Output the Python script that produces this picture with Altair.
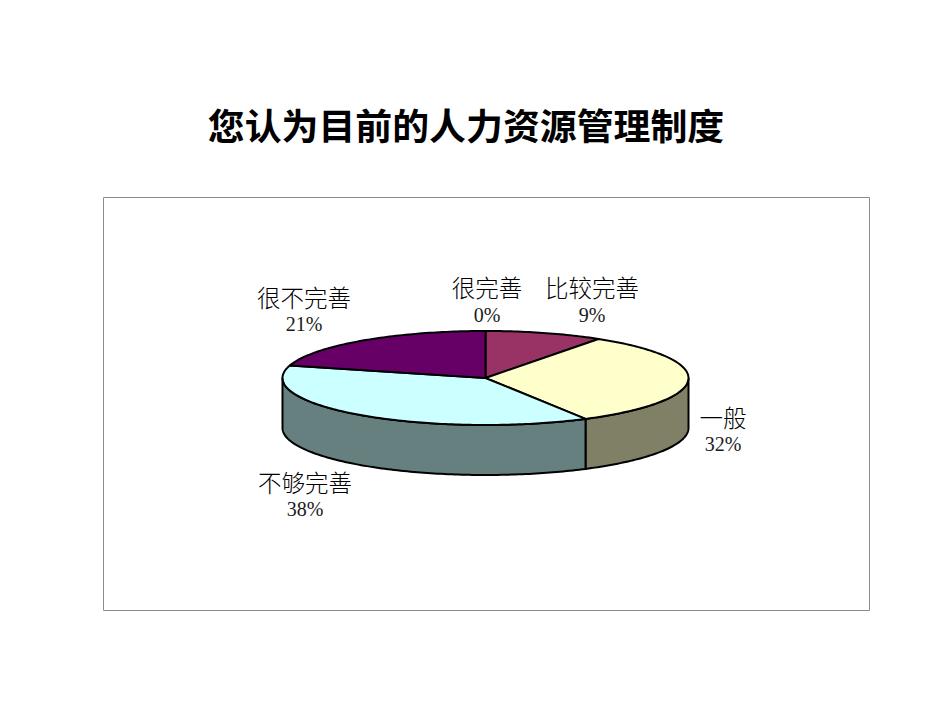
import math
import altair as alt
import pandas as pd

TITLE = "您认为目前的人力资源管理制度"
names = ["很完善", "比较完善", "一般", "不够完善", "很不完善"]
values = [0.0, 9.4, 32.4, 37.5, 20.7]
pct_labels = ["0%", "9%", "32%", "38%", "21%"]
top_colors = ["#FF99CC", "#993366", "#FFFFCC", "#CCFFFF", "#660066"]
wall_colors = ["#804D66", "#4D1A33", "#808066", "#668080", "#330033"]

# label anchors in the frame's own coordinates
label_x = [384, 489, 620, 202, 201]
name_y = [93, 93, 223, 288, 103]
pct_y = [119, 119, 248, 313, 128]

W, H = 766, 413
CX, CY, RX, RY, DEPTH = 382.5, 181, 203, 47, 50


def pt(deg, drop=0.0):
    t = math.radians(deg)
    return CX + RX * math.sin(t), CY - RY * math.cos(t) + drop


rows = []
def add(part, pts):
    for i, (x, y) in enumerate(pts):
        rows.append({"part": part, "seq": i, "x": x, "y": y})


# walls first, then the top faces
start = 0.0
spans = []
for n, v in zip(names, values):
    spans.append((n, start, start + v * 3.6))
    start += v * 3.6

for n, a, b in spans:
    lo, hi = max(a, 90), min(b, 270)
    if hi > lo:
        steps = max(2, int(hi - lo))
        arc = [lo + (hi - lo) * i / steps for i in range(steps + 1)]
        pts = [pt(d) for d in arc] + [pt(d, DEPTH) for d in reversed(arc)]
        add("wall " + n, pts + pts[:1])

for n, a, b in spans:
    steps = max(2, int(b - a))
    arc = [a + (b - a) * i / steps for i in range(steps + 1)]
    pts = [(CX, CY)] + [pt(d) for d in arc]
    add("top " + n, pts + pts[:1])

df = pd.DataFrame(rows)
parts = ["wall " + n for n in names] + ["top " + n for n in names]
fills = wall_colors + top_colors

xs = alt.Scale(domain=[0, W], nice=False, zero=False)
ys = alt.Scale(domain=[H, 0], nice=False, zero=False)

pie = alt.Chart(df).mark_line(stroke="black", strokeWidth=2, strokeJoin="round", clip=False).encode(
    x=alt.X("x:Q", scale=xs, axis=None),
    y=alt.Y("y:Q", scale=ys, axis=None),
    order="seq:Q",
    fill=alt.Fill("part:N", scale=alt.Scale(domain=parts, range=fills), legend=None, sort=parts),
)

lab = pd.DataFrame({"name": names, "pct": pct_labels, "x": label_x, "ny": name_y, "py": pct_y})
name_text = alt.Chart(lab).mark_text(
    font="Noto Sans CJK SC", fontSize=23.5, fontWeight=300, color="black", align="center", baseline="middle"
).encode(x=alt.X("x:Q", scale=xs, axis=None), y=alt.Y("ny:Q", scale=ys, axis=None), text="name:N")
pct_text = alt.Chart(lab).mark_text(
    font="Liberation Serif", fontSize=20, color="#1a1a1a", align="center", baseline="middle"
).encode(x=alt.X("x:Q", scale=xs, axis=None), y=alt.Y("py:Q", scale=ys, axis=None), text="pct:N")

chart = (
    alt.layer(pie, name_text, pct_text)
    .properties(
        width=W,
        height=H,
        background="white",
        padding={"left": 95, "top": 189, "right": 20, "bottom": 20},
        autosize=alt.AutoSizeParams(type="none"),
        title=alt.TitleParams(
            TITLE, font="Noto Sans CJK SC", fontSize=36.9, fontWeight="bold", color="black",
            anchor="middle", dx=-20, offset=49,
        ),
    )
    .configure_view(stroke="#8c8c8c", strokeWidth=1)
)

chart.save("out.html", embed_options={"renderer": "svg", "actions": False})
